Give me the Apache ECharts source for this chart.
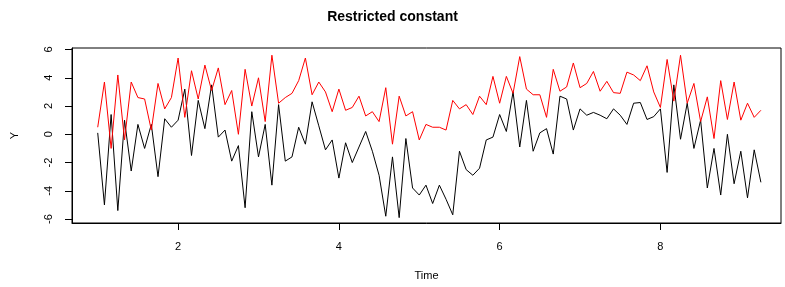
<!DOCTYPE html>
<html>
<head>
<meta charset="utf-8">
<script src="https://cdn.jsdelivr.net/npm/echarts@6/dist/echarts.min.js"></script>
<style>
  html, body { margin: 0; padding: 0; background: #fff; }
  #chart { width: 785px; height: 287px; }
</style>
</head>
<body>
<div id="chart"></div>
<script>
  // monthly series, starting at time 1
  var startTime = 1;
  var freq = 12;
  var seriesBlack = [0.1, -5.0, 1.4, -5.4, 1.0, -2.6, 0.7, -1.0, 0.7, -3.0,
    1.1, 0.5, 1.0, 3.2, -1.5, 2.4, 0.4, 3.5, -0.2, 0.3,
    -1.9, -0.8, -5.2, 1.6, -1.6, 0.7, -3.6, 2.1, -1.9, -1.6,
    0.5, -0.7, 2.3, 0.6, -1.1, -0.4, -3.1, -0.6, -2.0, -0.9,
    0.2, -1.2, -2.9, -5.8, -1.6, -5.9, -0.3, -3.8, -4.3, -3.6,
    -4.9, -3.6, -4.6, -5.7, -1.2, -2.5, -2.9, -2.4, -0.4, -0.2,
    1.4, 0.2, 3.0, -0.9, 2.4, -1.2, 0.1, 0.4, -1.4, 2.7,
    2.5, 0.3, 1.8, 1.35, 1.55, 1.35, 1.1, 1.8, 1.35, 0.7,
    2.2, 2.25, 1.05, 1.25, 1.8, -2.7, 3.5, -0.35, 2.2, -1.0,
    1.0, -3.8, -1.0, -4.3, 0.0, -3.5, -1.2, -4.5, -1.1, -3.4];
  var seriesRed = [0.5, 3.7, -1.0, 4.2, -0.4, 3.7, 2.6, 2.5, 0.3, 3.6,
    1.8, 2.6, 5.4, 1.2, 4.5, 2.5, 4.9, 3.1, 4.7, 2.1,
    3.1, 0.0, 4.6, 2.0, 4.0, 0.9, 5.6, 2.2, 2.6, 2.9,
    3.8, 5.4, 2.8, 3.7, 3.0, 1.6, 3.2, 1.7, 1.9, 2.7,
    1.3, 1.6, 0.9, 3.3, -0.7, 2.7, 1.3, 1.6, -0.4, 0.7,
    0.5, 0.5, 0.3, 2.4, 1.8, 2.1, 1.4, 2.7, 2.1, 4.1,
    2.2, 4.1, 2.9, 5.5, 3.2, 2.8, 2.8, 1.2, 4.6, 3.05,
    3.35, 5.05, 3.3, 3.6, 4.45, 3.05, 3.75, 2.95, 2.9, 4.4,
    4.2, 3.8, 4.85, 3.0, 1.9, 5.3, 2.35, 5.6, 2.2, 3.6,
    0.9, 2.65, -0.3, 3.8, 1.05, 3.7, 1.0, 2.2, 1.2, 1.7];
  var xTicks = [2, 4, 6, 8];
  var yTicks = [-6, -4, -2, 0, 2, 4, 6];

  function toPairs(vals) {
    return vals.map(function (v, i) { return [startTime + i / freq, v]; });
  }

  var chart = echarts.init(document.getElementById('chart'));
  var font = 'Liberation Sans, Arial, Helvetica, sans-serif';
  var option = {
    animation: false,
    backgroundColor: '#fff',
    title: {
      text: 'Restricted constant',
      left: 'center',
      top: 5,
      textStyle: { fontSize: 14, fontWeight: 'bold', color: '#000', fontFamily: font }
    },
    grid: {
      left: 72, right: 4, top: 48, bottom: 64,
      show: true, borderColor: '#000', borderWidth: 1,
      outerBoundsMode: 'none'
    },
    xAxis: {
      type: 'value',
      min: 0.68, max: 9.5,
      name: 'Time',
      nameLocation: 'middle',
      nameGap: 47,
      nameTextStyle: { fontSize: 11, color: '#000', fontFamily: font },
      axisLine: { show: true, onZero: false, lineStyle: { color: '#000', width: 1 } },
      axisTick: { show: true, length: 7, customValues: xTicks, lineStyle: { color: '#000' } },
      axisLabel: { customValues: xTicks, margin: 18, fontSize: 11, color: '#000', fontFamily: font },
      splitLine: { show: false }
    },
    yAxis: {
      type: 'value',
      min: -6.28, max: 6.11,
      name: 'Y',
      nameLocation: 'middle',
      nameGap: 52,
      nameTextStyle: { fontSize: 11, color: '#000', fontFamily: font },
      axisLine: { show: true, onZero: false, lineStyle: { color: '#000', width: 1 } },
      axisTick: { show: true, length: 7, customValues: yTicks, lineStyle: { color: '#000' } },
      axisLabel: { customValues: yTicks, rotate: 90, margin: 18, fontSize: 11, color: '#000', fontFamily: font },
      splitLine: { show: false }
    },
    series: [{
      type: 'line',
      data: toPairs(seriesBlack),
      showSymbol: false,
      lineStyle: { color: '#000', width: 1 },
      z: 2
    }, {
      type: 'line',
      data: toPairs(seriesRed),
      showSymbol: false,
      lineStyle: { color: '#ff0000', width: 1 },
      z: 3
    }]
  };
  chart.setOption(option);
</script>
</body>
</html>
